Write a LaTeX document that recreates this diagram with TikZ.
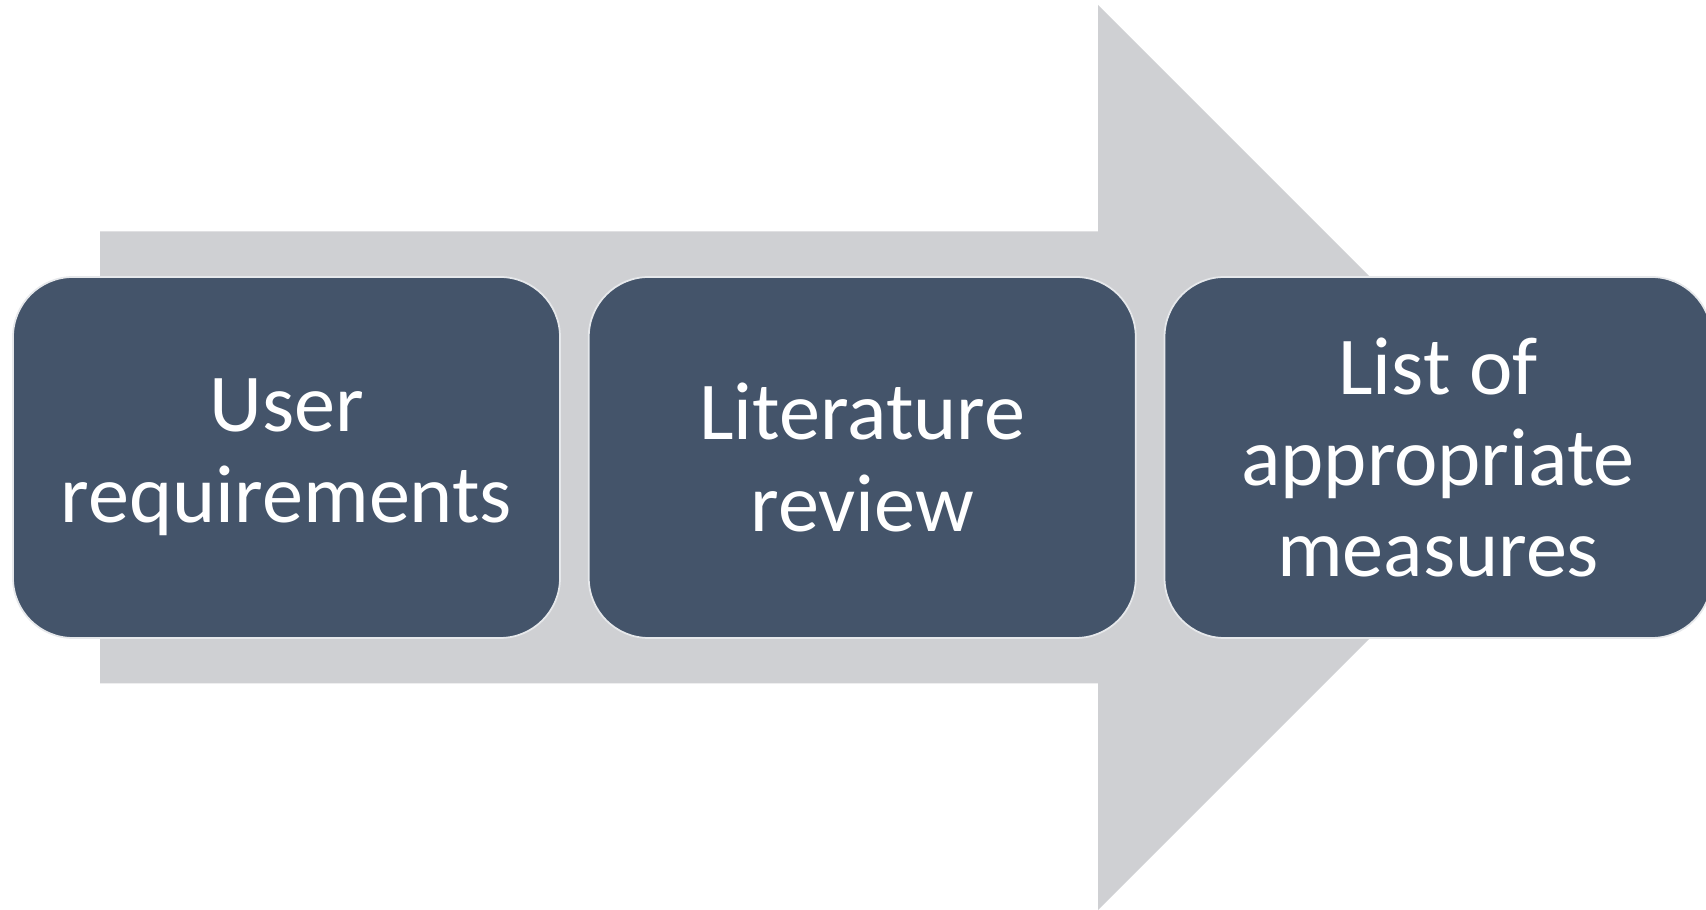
\documentclass[tikz,border=0pt]{standalone}
\usepackage{fontspec}
\setmainfont{Carlito}
\usepackage{tikz}
\usetikzlibrary{positioning}
\definecolor{stagefill}{HTML}{44546A}
\definecolor{flowgrey}{HTML}{CFD0D3}
\definecolor{stageline}{HTML}{E6E8EB}

\begin{document}
\begin{tikzpicture}[
  stage/.style={draw=stageline, line width=0.5pt, fill=stagefill, rounded corners=0.6cm, minimum width=5.47cm, minimum height=3.61cm, align=center, text=white, font=\fontsize{23.4}{26}\selectfont, inner sep=0pt}
]
  \useasboundingbox (0,0) rectangle (17.06,9.10);
  % big block arrow behind the stages
  \fill[flowgrey] (1.00,2.265) -- (1.00,6.785) -- (10.98,6.785) -- (10.98,9.05)
    -- (15.505,4.525) -- (10.98,0) -- (10.98,2.265) -- cycle;

  \node[stage] (user) at (2.865,4.525) {User\\requirements};
  \node[stage, right=0.27cm of user] (litrev) {Literature\\review};
  \node[stage, right=0.27cm of litrev] (measures) {List of\\appropriate\\measures};
\end{tikzpicture}
\end{document}
